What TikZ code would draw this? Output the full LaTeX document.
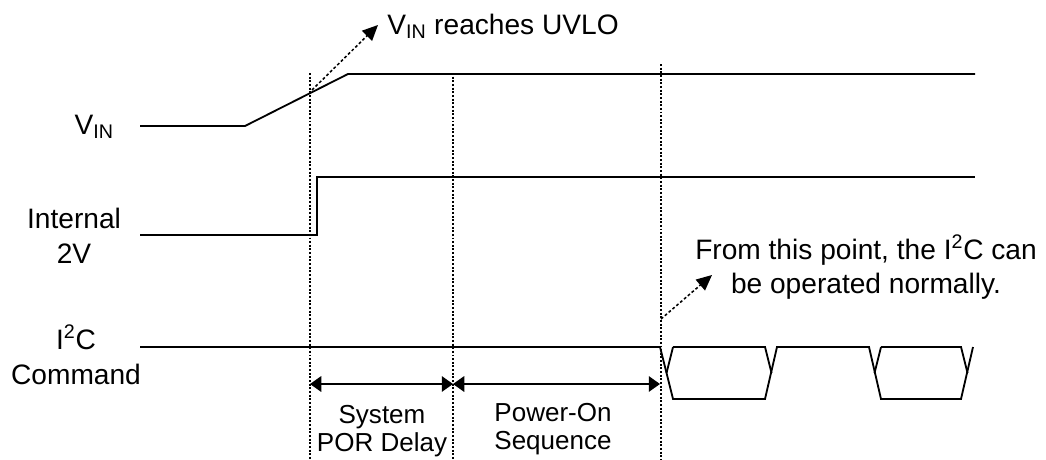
\documentclass[tikz,border=0pt]{standalone}
\usepackage{fontspec}
\setmainfont{Liberation Sans}
\usetikzlibrary{arrows.meta}

\begin{document}
\begin{tikzpicture}[x=0.025cm,y=-0.025cm,
  wave/.style={line width=1.3pt},
  marker/.style={line width=1.1pt,dash pattern=on 1.4pt off 1.2pt},
  span/.style={line width=1.3pt,{Triangle[length=8pt,width=11pt]}-{Triangle[length=8pt,width=11pt]}},
  callout/.style={line width=1.1pt,dash pattern=on 2pt off 1.6pt,-{Triangle[length=11pt,width=10pt]}},
  lbl/.style={font=\fontsize{20}{25}\selectfont,align=center,inner sep=0pt},
  note/.style={font=\fontsize{18.5}{20}\selectfont,align=center,inner sep=0pt}]
\useasboundingbox (0,0) rectangle (1046,460);
\node[lbl,anchor=east] (vin) at (114,127) {V\textsubscript{IN}};
\node[lbl] (int) at (74,236) {Internal\\2V};
\node[lbl] (cmd) at (76,355) {I\textsuperscript{2}C\\Command};
\draw[wave] (140,126) -- (245,126) -- (348,74) -- (975,74);
\draw[wave] (140,235) -- (317,235) -- (317,177) -- (975,177);
\draw[wave] (140,347) -- (660,347) -- (673,399) -- (765,399) -- (777,347) -- (869,347) -- (881,399) -- (961,399) -- (973,347);
\foreach \a/\b in {673/765,881/961}{
\draw[wave] (\a,347) -- ++(-6.5,26);
\draw[wave] (\a,347) -- (\b,347) -- ++(6.5,26);
}
\foreach \n/\x/\y in {p1/310/73,p2/453/73,p3/661/64}{
\coordinate (\n) at (\x,\y);
\draw[marker] (\n) -- (\x,460);
}
\coordinate (s1) at (310,384);
\coordinate (s2) at (453,384);
\coordinate (s3) at (660,384);
\draw[span] (s1) -- (s2);
\draw[span] (s2) -- (s3);
\node[note] (por) at (382,431) {System\\POR Delay};
\node[note] (seq) at (553,429) {Power-On\\Sequence};
\coordinate (uvlo) at (312,90);
\node[lbl,anchor=west] (uvlotxt) at (387,26) {V\textsubscript{IN} reaches UVLO};
\draw[callout] (uvlo) -- (378,25);
\coordinate (ready) at (661,319);
\node[lbl,font=\fontsize{20}{24}\selectfont] (readytxt) at (866,267) {From this point, the I\textsuperscript{2}C can\\be operated normally.};
\draw[callout] (ready) -- (712,275);
\end{tikzpicture}
\end{document}
